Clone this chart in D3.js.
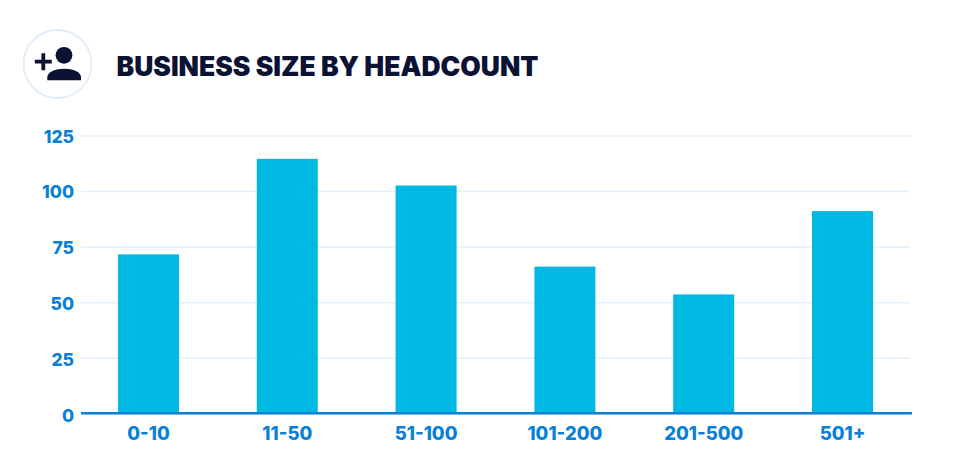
<!DOCTYPE html>
<html>
<head>
<meta charset="utf-8">
<script src="https://cdn.jsdelivr.net/npm/d3@7"></script>
<style>
  html, body { margin: 0; padding: 0; background: #fff; }
  text { font-family: Inter, "Open Sans", sans-serif; }
  .tick text { font-size: 17.5px; font-weight: 800; fill: #0a7fd6; }
</style>
</head>
<body>
<svg id="chart" width="953" height="466"></svg>
<script>
const categories = ["0-10", "11-50", "51-100", "101-200", "201-500", "501+"];
const values = [71.5, 114.5, 102.5, 66, 53.5, 91];
const yTicks = [0, 25, 50, 75, 100, 125];

const svg = d3.select("#chart");

// header icon
const icon = svg.append("g").attr("transform", "translate(57.5,64)");
icon.append("circle").attr("r", 34).attr("fill", "#fff").attr("stroke", "#deedf9").attr("stroke-width", 1.8);
icon.append("circle").attr("cx", 6.5).attr("cy", -8.7).attr("r", 8.4).attr("fill", "#0b1233");
icon.append("path").attr("fill", "#0b1233")
  .attr("d", "M-10.2,16.3 V13 C-10.2,8 -2,4.7 6.6,4.7 C15.5,4.7 23.5,8 23.5,13 V16.3 Z");
icon.append("path").attr("stroke", "#0b1233").attr("stroke-width", 3.8).attr("fill", "none")
  .attr("d", "M-22.7,-2.3 H-5.7 M-14.2,-10.8 V6.2");

svg.append("text")
  .attr("x", 116.5).attr("y", 75.5)
  .attr("font-size", 26.5).attr("font-weight", 900).attr("fill", "#0b1233")
  .attr("textLength", 422).attr("lengthAdjust", "spacingAndGlyphs")
  .text("BUSINESS SIZE BY HEADCOUNT");

const x = d3.scaleBand().domain(categories).range([79.1, 911.9]).paddingInner(0.5605).paddingOuter(0.28);
const y = d3.scaleLinear().domain([0, 125]).range([413.3, 135.5]);
// the labels sit slightly off the gridlines in the reference, lower near the bottom
const yLabel = d3.scaleLinear().domain([0, 125]).range([415, 135.7]);

const yAxis = svg.append("g").attr("transform", "translate(81,0)")
  .call(d3.axisLeft(y).tickValues(yTicks).tickSize(-829).tickPadding(7));
yAxis.select(".domain").remove();
yAxis.selectAll(".tick line").attr("stroke", "#e3eff9").attr("stroke-width", 1.5);
yAxis.selectAll(".tick text").attr("dy", "0.36em").attr("y", d => yLabel(d) - y(d));

svg.append("g").selectAll("rect")
  .data(categories)
  .enter()
  .append("rect")
  .attr("x", d => x(d))
  .attr("width", x.bandwidth())
  .attr("y", (d, i) => y(values[i]))
  .attr("height", (d, i) => y(0) - y(values[i]))
  .attr("fill", "#00b9e2");

const xAxis = svg.append("g").attr("transform", "translate(0,413.3)")
  .call(d3.axisBottom(x).tickSize(0).tickPadding(13.5));
xAxis.select(".domain").attr("d", "M81,0H912").attr("stroke", "#0a7fd6").attr("stroke-width", 2.5);
xAxis.selectAll(".tick text").attr("dy", "0.71em").style("font-size", "18.5px");
</script>
</body>
</html>
